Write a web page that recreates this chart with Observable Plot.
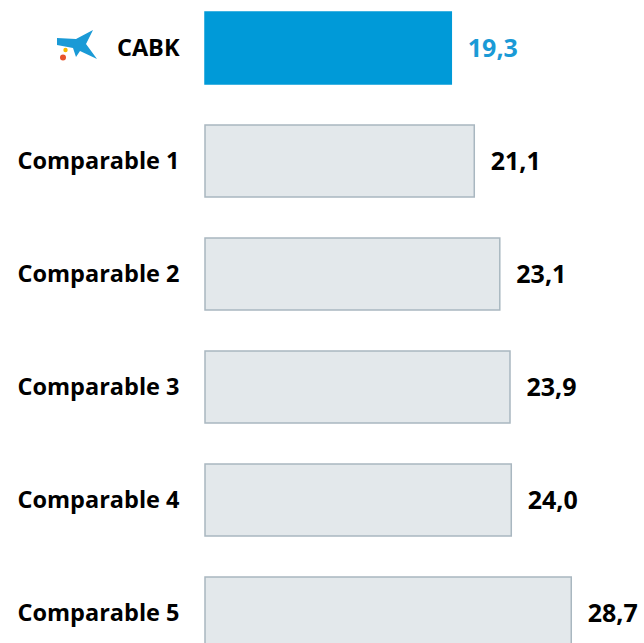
<!DOCTYPE html>
<html>
<head>
<meta charset="utf-8">
<script src="https://cdn.jsdelivr.net/npm/d3@7"></script>
<script src="https://cdn.jsdelivr.net/npm/@observablehq/plot@0.6"></script>
<style>
  html, body { margin: 0; padding: 0; background: #fff; overflow: hidden; }
  #chart svg { display: block; }
</style>
</head>
<body>
<div id="chart"></div>
<script>
const categories = ["CABK", "Comparable 1", "Comparable 2", "Comparable 3", "Comparable 4", "Comparable 5"];
const values = [19.3, 21.1, 23.1, 23.9, 24.0, 28.7];
const highlight = ["CABK"];

const data = categories.map((c, i) => ({
  name: c,
  value: values[i],
  label: values[i].toFixed(1).replace(".", ","),
  hl: highlight.includes(c)
}));

const font = "'Open Sans', 'DejaVu Sans', sans-serif";
const blue = "#009ad8";

const plot = Plot.plot({
  width: 644,
  height: 643,
  marginLeft: 205,
  marginRight: 0,
  marginTop: 0,
  marginBottom: 0,
  style: { fontFamily: font, fontWeight: "bold", background: "#fff", overflow: "hidden" },
  x: { domain: [0, 34.4], range: [205, 644], axis: null },
  y: { domain: categories, range: [-28.7, 690], padding: 0.36, label: null },
  marks: [
    Plot.barX(data, {
      y: "name", x: "value",
      fill: d => d.hl ? blue : "#e3e8eb",
      stroke: d => d.hl ? blue : "#a9b7c0",
      strokeWidth: 1.5,
      inset: 0
    }),
    Plot.text(data, {
      y: "name", x: "value", text: "label",
      dx: 16, textAnchor: "start",
      fill: d => d.hl ? "#1a9ad6" : "#000",
      fontSize: 25, fontWeight: "bold"
    }),
    Plot.axisY({ tickSize: 0, tickPadding: 26, fontSize: 23.5, fontWeight: "bold", color: "#000", label: null })
  ]
});

document.getElementById("chart").appendChild(plot);

// la Caixa style logo next to the CABK label
const ys = plot.scale("y");
const yc = ys.apply("CABK") + ys.bandwidth / 2;
const svg = d3.select(plot);
const g = svg.append("g").attr("transform", `translate(0,${yc - 47})`);
g.append("path")
  .attr("d", "M57,37 L76,38 L93,29 L86,43 L97,58 L80,50 L76,56 L73,47 L57,44 Z")
  .attr("fill", "#1a9ad6");
g.append("circle").attr("cx", 63).attr("cy", 56.5).attr("r", 3).attr("fill", "#e8532b");
g.append("circle").attr("cx", 65.5).attr("cy", 49).attr("r", 2.2).attr("fill", "#f5b900");
</script>
</body>
</html>
